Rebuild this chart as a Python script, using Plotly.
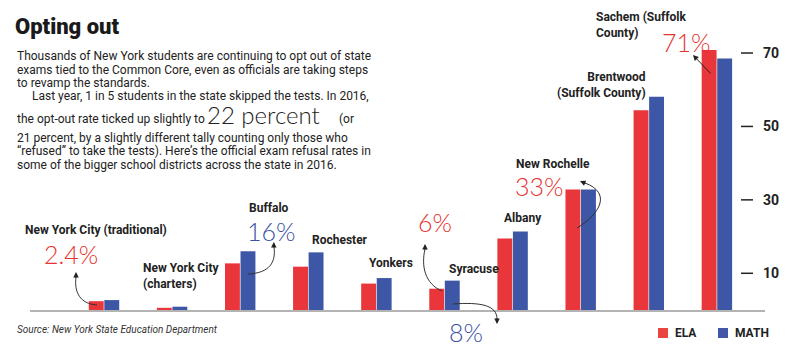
import plotly.graph_objects as go

# ---------------- data ----------------
districts = ["New York City (traditional)", "New York City (charters)", "Buffalo", "Rochester",
             "Yonkers", "Syracuse", "Albany", "New Rochelle",
             "Brentwood (Suffolk County)", "Sachem (Suffolk County)"]
ela = [2.4, 0.6, 12.7, 11.8, 7.2, 5.8, 19.5, 32.8, 54.4, 70.8]
math = [2.7, 0.9, 16.0, 15.7, 8.7, 8.0, 21.4, 32.8, 58.1, 68.5]
y_ticks = [10, 30, 50, 70]
series_names = ["ELA", "MATH"]

RED = "#e8363a"
BLUE = "#3d56a6"
RED_TXT = "#e8322f"
BLUE_TXT = "#3b51a3"
INK = "#222222"
FONT = "Roboto"
LIGHT_FONT = "Lato"

# plot-area geometry (pixels)
W, H = 800, 352
PL, PR, PT, PB = 30, 765, 40, 310
PX_PER_UNIT = 3.6713
CAT_PX = 68.1
FIRST_CENTER = 104


def px(x):
    return (x - PL) / (PR - PL)


def py(y):
    return (PB - y) / (PB - PT)


x_pos = list(range(len(districts)))

fig = go.Figure()
fig.add_trace(go.Bar(x=x_pos, y=ela, name=series_names[0], marker=dict(color=RED, line=dict(width=0)),
                     showlegend=False))
fig.add_trace(go.Bar(x=x_pos, y=math, name=series_names[1], marker=dict(color=BLUE, line=dict(width=0)),
                     showlegend=False))

annotations = []


def txt(text, x, y, size=12, color=INK, weight=700, xanchor="left", yanchor="middle",
        style="normal", align="left", family=FONT):
    annotations.append(dict(text=text, x=px(x), y=py(y), xref="paper", yref="paper",
                            xanchor=xanchor, yanchor=yanchor, showarrow=False, align=align,
                            font=dict(family=family, size=size, color=color, weight=weight, style=style)))


# title and intro text
txt("Opting out", 13, 26, size=22, color="#1a1a1a", weight=900)
body = [
    ("Thousands of New York students are continuing to opt out of state", 15, 56),
    ("exams tied to the Common Core, even as officials are taking steps", 15, 69.5),
    ("to revamp the standards.", 15, 83),
    ("Last year, 1 in 5 students in the state skipped the tests. In 2016,", 30, 96),
    ("the opt-out rate ticked up slightly to", 15, 119.5),
    ("21 percent, by a slightly different tally counting only those who", 15, 137.5),
    ("\u201crefused\u201d to take the tests). Here\u2019s the official exam refusal rates in", 15, 151),
    ("some of the bigger school districts across the state in 2016.", 15, 164.5),
]
for t, x, y in body:
    txt(t, x, y, size=12, color=INK, weight=400)
txt("22 percent", 205, 114.5, size=24, color=INK, weight=300, family=LIGHT_FONT)
txt("(or", 337, 119.5, size=12, color=INK, weight=400)

# district labels
txt("New York City (traditional)", 23, 230)
txt("New York City<br>(charters)", 141, 275.5)
txt("Buffalo", 247, 208)
txt("Rochester", 310, 240)
txt("Yonkers", 367, 263)
txt("Syracuse", 447, 269)
txt("Albany", 502, 218)
txt("New Rochelle", 514, 164)
txt("Brentwood<br>(Suffolk County)", 648, 84.5, xanchor="right", align="right")
txt("Sachem (Suffolk<br>County)", 594, 24.5)

# highlighted percentages
pct_labels = [("2.4%", 42, 254, RED_TXT), ("16%", 245, 231, BLUE_TXT), ("6%", 416, 222, RED_TXT),
              ("8%", 447, 332, BLUE_TXT), ("33%", 513, 186, RED_TXT), ("71%", 660, 42, RED_TXT)]
for t, x, y, c in pct_labels:
    txt(t, x, y, size=25, color=c, weight=300, family=LIGHT_FONT)

# source
txt("Source: New York State Education Department", 15, 329, size=10, color="#333333",
    weight=400, style="italic")

shapes = []

# curved connector arrows (pixel control points)
curves = [
    [(97, 305), (80, 304), (74, 292), (76, 277)],
    [(248, 274), (270, 273), (276, 262), (274, 247)],
    [(442, 291), (425, 284), (421, 266), (425, 249)],
    [(453, 304), (480, 302), (497, 305), (497, 319)],
    [(577, 228), (600, 214), (612, 193), (585, 183)],
]
heads = [((76, 272), 0, 7), ((273.8, 242), 0, 7), ((425, 244), 0, 7),
         ((497, 324), 0, -7), ((580, 181), 7, 3)]
for c in curves:
    p = "M {},{} C {},{} {},{} {},{}".format(
        px(c[0][0]), py(c[0][1]), px(c[1][0]), py(c[1][1]),
        px(c[2][0]), py(c[2][1]), px(c[3][0]), py(c[3][1]))
    shapes.append(dict(type="path", path=p, xref="paper", yref="paper",
                       line=dict(color="#333333", width=1)))
for (tip, ax, ay) in heads:
    annotations.append(dict(text="", x=px(tip[0]), y=py(tip[1]), xref="paper", yref="paper",
                            ax=ax, ay=ay, showarrow=True, arrowhead=2, arrowsize=1.1,
                            arrowwidth=1, arrowcolor="#222222"))
# straight arrow for Sachem
annotations.append(dict(text="", x=px(693), y=py(55), xref="paper", yref="paper",
                        ax=19, ay=20, showarrow=True, arrowhead=2, arrowsize=1.1,
                        arrowwidth=1, arrowcolor="#222222"))

# y-axis tick dashes
for t in y_ticks:
    shapes.append(dict(type="line", xref="paper", yref="y", x0=px(741), x1=px(753), y0=t, y1=t,
                       line=dict(color=INK, width=1.5)))

# legend
for name, col, x0 in [(series_names[0], "#e8463f", 658), (series_names[1], "#4257a8", 718)]:
    shapes.append(dict(type="rect", xref="paper", yref="paper", x0=px(x0), x1=px(x0 + 10),
                       y0=py(338), y1=py(328), fillcolor=col, line=dict(width=0)))
    txt(name, x0 + 15, 333, size=12, color=INK, weight=700)

fig.update_layout(
    width=W, height=H, autosize=False,
    margin=dict(l=PL, r=W - PR, t=PT, b=H - PB, pad=0),
    paper_bgcolor="white", plot_bgcolor="white",
    barmode="group", bargap=0.544, bargroupgap=0.04,
    xaxis=dict(range=[(PL - FIRST_CENTER) / CAT_PX, (PR - FIRST_CENTER) / CAT_PX],
               showticklabels=False, showgrid=False, zeroline=False, ticks="",
               showline=True, linecolor="#b3b3b3", linewidth=2),
    yaxis=dict(range=[0, (PB - PT) / PX_PER_UNIT], side="right", tickvals=y_ticks,
               ticks="", showgrid=False, zeroline=False, showline=False,
               ticklabelstandoff=-3,
               tickfont=dict(family=FONT, size=14, color=INK, weight=700)),
    annotations=annotations, shapes=shapes,
    showlegend=False,
)

fig.write_html("out.html")
